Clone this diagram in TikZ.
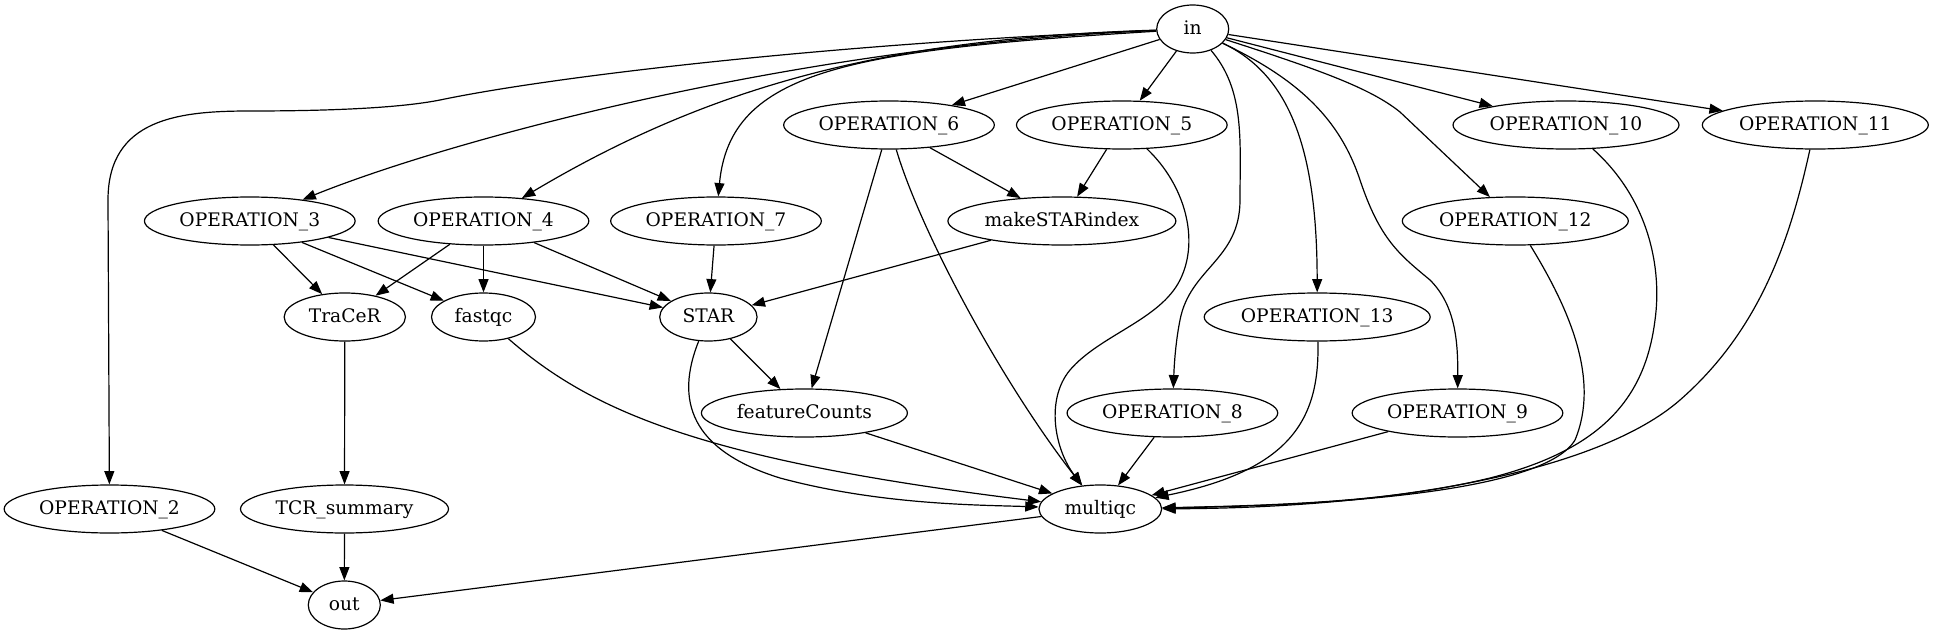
\documentclass[tikz,border=0pt]{standalone}
\usepackage{fontspec}
\newfontfamily\gvfont{DejaVu Serif}
\usetikzlibrary{shapes.geometric,arrows.meta}
\begin{document}
\begin{tikzpicture}[x=0.75pt,y=-0.75pt,
  gv/.style={ellipse,draw,line width=0.9pt,inner sep=0pt,minimum height=36pt,
    text height=11.5pt,text depth=3pt,font={\gvfont\fontsize{14pt}{16pt}\selectfont}},
  opn/.style={gv,minimum width=158pt},
  opd/.style={gv,minimum width=169.5pt},
  arr/.style={-{Triangle[length=10pt,width=7.5pt]},line width=0.9pt}]
\useasboundingbox (0,0) rectangle (1934,635);
% nodes
\node[gv,minimum width=54pt] (nin) at (1192.7,29) {in};
\node[opn] (op6) at (889,125) {OPERATION\_6};
\node[opn] (op5) at (1121.8,125) {OPERATION\_5};
\node[opd] (op10) at (1566,125) {OPERATION\_10};
\node[opd] (op11) at (1815.3,125) {OPERATION\_11};
\node[opn] (op3) at (249.8,221) {OPERATION\_3};
\node[opn] (op4) at (483.5,221) {OPERATION\_4};
\node[opn] (op7) at (716,221) {OPERATION\_7};
\node[gv,minimum width=171pt] (msi) at (1061.9,221) {makeSTARindex};
\node[opd] (op12) at (1515.3,221) {OPERATION\_12};
\node[gv,minimum width=91pt] (tracer) at (344.8,317) {TraCeR};
\node[gv,minimum width=78pt] (fastqc) at (483.5,317) {fastqc};
\node[gv,minimum width=73pt] (star) at (708.4,317) {STAR};
\node[opd] (op13) at (1317.2,317) {OPERATION\_13};
\node[gv,minimum width=154.5pt] (fc) at (804.4,413) {featureCounts};
\node[opn] (op8) at (1172.4,413) {OPERATION\_8};
\node[opn] (op9) at (1457.5,413) {OPERATION\_9};
\node[opn] (op2) at (109.5,509) {OPERATION\_2};
\node[gv,minimum width=156pt] (tcr) at (344.5,509) {TCR\_summary};
\node[gv,minimum width=92pt] (mqc) at (1100.3,509) {multiqc};
\node[gv,minimum width=54pt] (nout) at (344.3,605) {out};
% edges from in
\draw[arr] (nin) .. controls (850,42) and (560,75) .. (440,100)
  .. controls (400,108) and (330,111) .. (250,111)
  .. controls (180,111) and (108,118) .. (108,200) -- (op2);
\draw[arr] (nin) .. controls (800,45) and (450,140) .. (op3);
\draw[arr] (nin) .. controls (900,38) and (720,80) .. (op4);
\draw[arr] (nin) .. controls (850,50) and (730,70) .. (op7);
\draw[arr] (nin) -- (op6);
\draw[arr] (nin) -- (op5);
\draw[arr] (nin) -- (op10);
\draw[arr] (nin) -- (op11);
\draw[arr] (nin) .. controls (1320,70) and (1370,88) .. (1400,112) -- (op12);
\draw[arr] (nin) .. controls (1290,75) and (1317,150) .. (op13);
\draw[arr] (nin) .. controls (1245,90) and (1240,140) .. (1240,200)
  .. controls (1240,260) and (1190,268) .. (1180,320)
  .. controls (1175,345) and (1174,370) .. (op8);
\draw[arr] (nin) .. controls (1300,80) and (1340,120) .. (1360,180)
  .. controls (1380,240) and (1400,255) .. (1430,280)
  .. controls (1455,305) and (1458,340) .. (op9);
% OPERATION_6, OPERATION_5
\draw[arr] (op6) -- (msi);
\draw[arr] (op6) -- (fc);
\draw[arr] (op6) .. controls (920,230) and (1000,380) .. (mqc);
\draw[arr] (op5) -- (msi);
\draw[arr] (op5) .. controls (1185,185) and (1200,240) .. (1180,280)
  .. controls (1160,320) and (1100,335) .. (1070,370)
  .. controls (1045,400) and (1055,450) .. (mqc);
% OPERATION_3, OPERATION_4, OPERATION_7
\draw[arr] (op3) -- (tracer);
\draw[arr] (op3) -- (fastqc);
\draw[arr] (op3) -- (star);
\draw[arr] (op4) -- (tracer);
\draw[arr] (op4) -- (fastqc);
\draw[arr] (op4) -- (star);
\draw[arr] (op7) -- (star);
\draw[arr] (msi) -- (star);
% STAR, fastqc, featureCounts
\draw[arr] (star) -- (fc);
\draw[arr] (star) .. controls (675,400) and (690,450) .. (780,478)
  .. controls (880,505) and (980,505) .. (mqc);
\draw[arr] (fastqc) .. controls (590,410) and (700,460) .. (mqc);
\draw[arr] (fc) -- (mqc);
% right side into multiqc
\draw[arr] (op8) -- (mqc);
\draw[arr] (op9) -- (mqc);
\draw[arr] (op13) .. controls (1320,420) and (1290,470) .. (mqc);
\draw[arr] (op12) .. controls (1570,310) and (1600,380) .. (1575,440)
  .. controls (1545,490) and (1350,505) .. (mqc);
\draw[arr] (op10) .. controls (1650,200) and (1662,270) .. (1655,320)
  .. controls (1645,400) and (1600,450) .. (1490,478)
  .. controls (1400,500) and (1300,505) .. (mqc);
\draw[arr] (op11) .. controls (1790,240) and (1760,330) .. (1680,400)
  .. controls (1600,470) and (1400,508) .. (mqc);
% bottom
\draw[arr] (tracer) -- (tcr);
\draw[arr] (tcr) -- (nout);
\draw[arr] (op2) -- (nout);
\draw[arr] (mqc) -- (nout);
\end{tikzpicture}
\end{document}
